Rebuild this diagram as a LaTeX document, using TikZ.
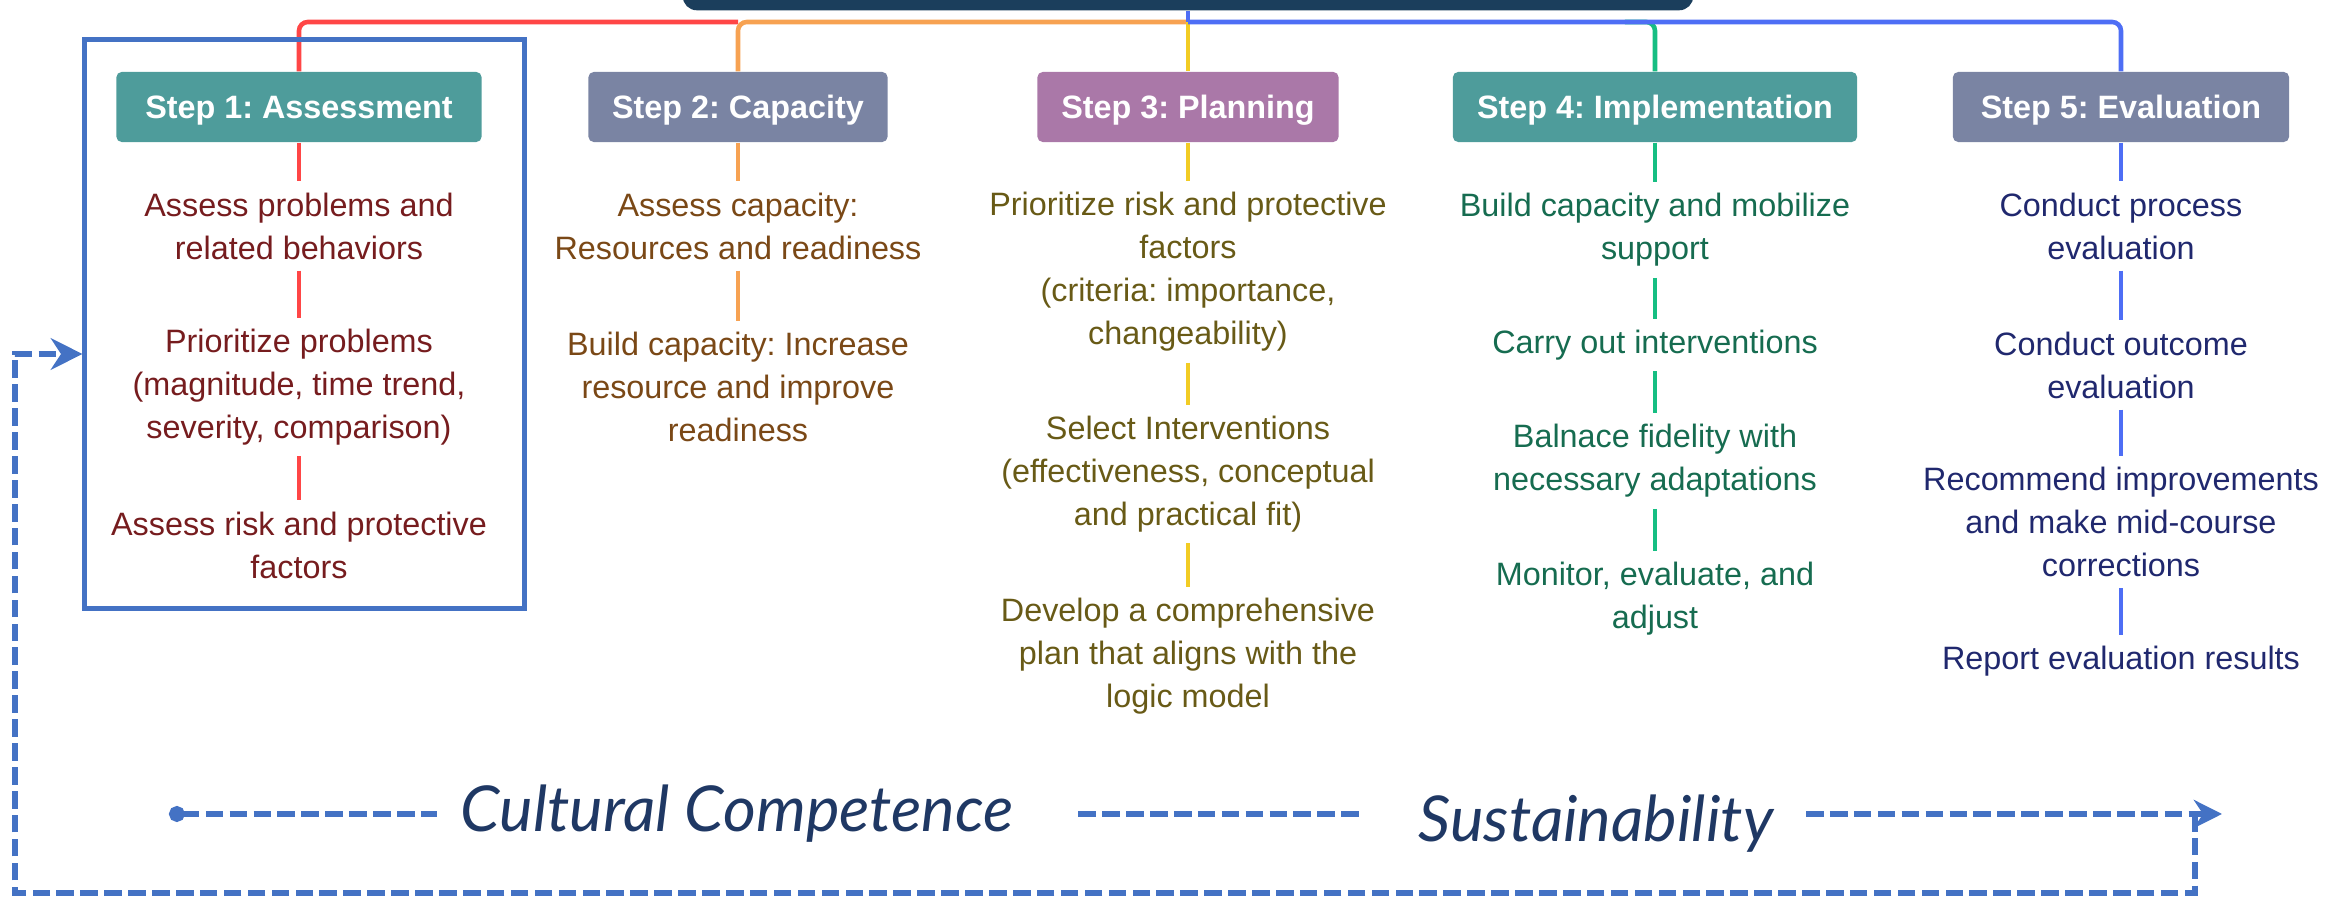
\documentclass[tikz,border=0pt]{standalone}
\usepackage{fontspec}
\setmainfont{Liberation Sans}
\newfontfamily\themefont{Lato}
\usetikzlibrary{arrows.meta, positioning, shapes}

\definecolor{root-color}{RGB}{27,62,92}
\definecolor{teal-color}{RGB}{78,156,155}
\definecolor{slate-color}{RGB}{122,132,163}
\definecolor{plum-color}{RGB}{170,120,168}
\definecolor{red-line}{RGB}{255,70,70}
\definecolor{orange-line}{RGB}{247,162,82}
\definecolor{yellow-line}{RGB}{242,204,36}
\definecolor{green-line}{RGB}{22,190,130}
\definecolor{blue-line}{RGB}{78,110,245}
\definecolor{red-text}{RGB}{118,28,30}
\definecolor{orange-text}{RGB}{122,72,22}
\definecolor{yellow-text}{RGB}{104,90,22}
\definecolor{green-text}{RGB}{22,108,80}
\definecolor{blue-text}{RGB}{32,40,110}
\definecolor{office-blue}{RGB}{68,114,196}
\definecolor{theme-color}{RGB}{31,56,100}

\tikzstyle{stepbox} = [rectangle, rounded corners=1.5pt, text=white, font=\fontsize{9.2}{11}\selectfont\bfseries, minimum height=0.7cm, text height=6.6pt, text depth=0pt]
\tikzstyle{task} = [align=center, font=\fontsize{9.2}{12.2}\selectfont, inner xsep=0pt, inner ysep=3pt]
\tikzstyle{trunk} = [line width=1.3pt, rounded corners=2.5pt]
\tikzstyle{stem} = [line width=1.3pt]
\tikzstyle{theme} = [font=\themefont\itshape\fontsize{18}{20}\selectfont, text=theme-color, inner sep=0pt, text height=0.5cm, text depth=0.15cm]
\tikzstyle{dashline} = [office-blue, line width=1.7pt, dash pattern=on 5pt off 1.8pt]

\begin{document}
\frenchspacing
\begin{tikzpicture}[x=0.01cm, y=-0.01cm]
    \useasboundingbox (0,0) rectangle (2341,898);

    \node[rectangle, rounded corners=4pt, fill=root-color, minimum width=10.1cm, minimum height=0.8cm, anchor=south] at (1188, 11) (root) {};
    \coordinate (split) at (1188, 22);

    % steps
    \node[stepbox, fill=teal-color, minimum width=3.65cm] at (299, 107) (s1) {Step 1: Assessment};
    \node[stepbox, fill=slate-color, minimum width=2.99cm] at (738, 107) (s2) {Step 2: Capacity};
    \node[stepbox, fill=plum-color, minimum width=3.01cm] at (1188, 107) (s3) {Step 3: Planning};
    \node[stepbox, fill=teal-color, minimum width=4.04cm] at (1655, 107) (s4) {Step 4: Implementation};
    \node[stepbox, fill=slate-color, minimum width=3.36cm] at (2121, 107) (s5) {Step 5: Evaluation};

    \draw[trunk, red-line] (split -| s2.north) -| (s1.north);
    \draw[trunk, orange-line] (split) -| (s2.north);
    \draw[trunk, yellow-line] (split) -- (s3.north);
    \draw[trunk, green-line] ([xshift=-0.3cm]split -| s4.north) -| (s4.north);
    \draw[trunk, blue-line] (split) -| (s5.north);
    \draw[trunk, blue-line] (root.south) -- (split);

    % assessment
    \node[task, text=red-text] at (299, 226) (a1) {Assess problems and\\related behaviors};
    \node[task, text=red-text] at (299, 387) (a2) {Prioritize problems\\(magnitude, time trend,\\severity, comparison)};
    \node[task, text=red-text] at (299, 545) (a3) {Assess risk and protective\\factors};
    \draw[stem, red-line] (s1) -- (a1);
    \draw[stem, red-line] (a1) -- (a2);
    \draw[stem, red-line] (a2) -- (a3);

    % capacity
    \node[task, text=orange-text] at (738, 226) (b1) {Assess capacity:\\Resources and readiness};
    \node[task, text=orange-text] at (738, 387) (b2) {Build capacity: Increase\\resource and improve\\readiness};
    \draw[stem, orange-line] (s2) -- (b1);
    \draw[stem, orange-line] (b1) -- (b2);

    % planning
    \node[task, text=yellow-text] at (1188, 272) (c1) {Prioritize risk and protective\\factors\\(criteria: importance,\\changeability)};
    \node[task, text=yellow-text] at (1188, 474) (c2) {Select Interventions\\(effectiveness, conceptual\\and practical fit)};
    \node[task, text=yellow-text] at (1188, 656) (c3) {Develop a comprehensive\\plan that aligns with the\\logic model};
    \draw[stem, yellow-line] (s3) -- (c1);
    \draw[stem, yellow-line] (c1) -- (c2);
    \draw[stem, yellow-line] (c2) -- (c3);

    % implementation
    \node[task, text=green-text] at (1655, 230) (d1) {Build capacity and mobilize\\support};
    \node[task, text=green-text] at (1655, 345) (d2) {Carry out interventions};
    \node[task, text=green-text] at (1655, 461) (d3) {Balnace fidelity with\\necessary adaptations};
    \node[task, text=green-text] at (1655, 599) (d4) {Monitor, evaluate, and\\adjust};
    \draw[stem, green-line] (s4) -- (d1);
    \draw[stem, green-line] (d1) -- (d2);
    \draw[stem, green-line] (d2) -- (d3);
    \draw[stem, green-line] (d3) -- (d4);

    % evaluation
    \node[task, text=blue-text] at (2121, 226) (e1) {Conduct process\\evaluation};
    \node[task, text=blue-text] at (2121, 365) (e2) {Conduct outcome\\evaluation};
    \node[task, text=blue-text] at (2121, 522) (e3) {Recommend improvements\\and make mid-course\\corrections};
    \node[task, text=blue-text] at (2121, 661) (e4) {Report evaluation results};
    \draw[stem, blue-line] (s5) -- (e1);
    \draw[stem, blue-line] (e1) -- (e2);
    \draw[stem, blue-line] (e2) -- (e3);
    \draw[stem, blue-line] (e3) -- (e4);

    \node[rectangle, draw=office-blue, line width=1.4pt, minimum width=4.39cm, minimum height=5.68cm] at (304.5, 324) (focus) {};

    % cross-cutting themes
    \coordinate (dotstart) at (169, 814);
    \coordinate (arrowend) at (2222, 814);
    \coordinate (loopout) at (2195, 814);
    \node[theme, anchor=west] at (460, 814) (cc) {Cultural Competence};
    \node[theme, anchor=west] at (1418, 814) (sus) {\raisebox{-0.1cm}{Sustainability}};

    \draw[dashline, {Circle[length=4.5pt]}-, shorten >=0.23cm] (dotstart) -- (cc);
    \draw[dashline, shorten <=0.64cm, shorten >=0.56cm] (cc) -- (sus);
    \draw[dashline, shorten <=0.32cm, -{Stealth[length=8pt, width=8pt]}] (sus) -- (arrowend);
    \draw[dashline, -{Stealth[length=9pt, width=9pt]}] (loopout) |- (15, 893) |- (focus.west |- 0, 354);
\end{tikzpicture}
\end{document}
